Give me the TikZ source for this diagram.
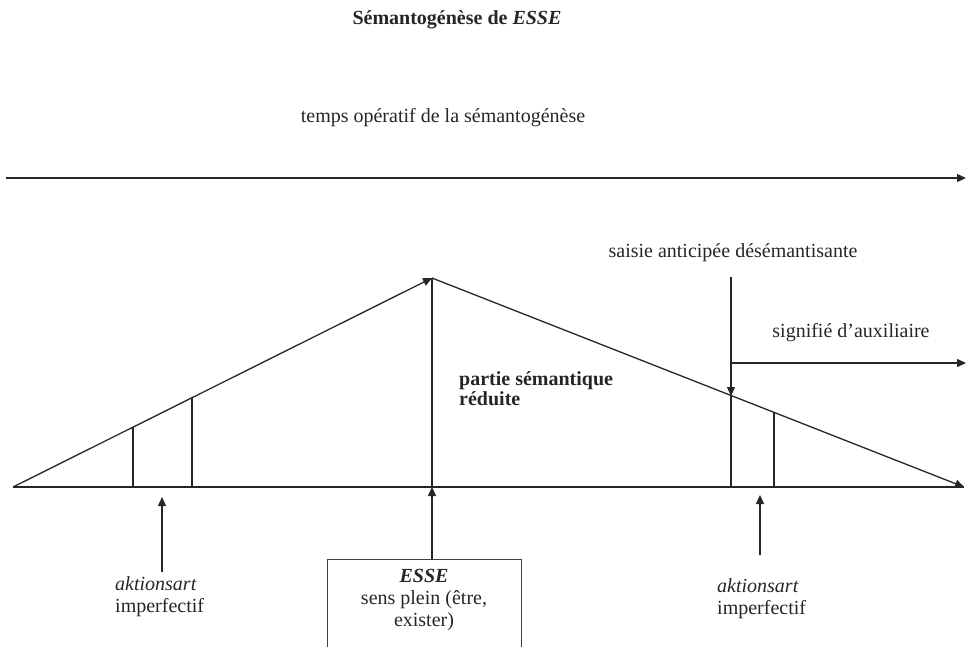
\documentclass[tikz,border=0pt]{standalone}
\usepackage{fontspec}
\setmainfont{Liberation Serif}
\usetikzlibrary{arrows.meta}
\begin{document}
\begin{tikzpicture}[x=1pt,y=-1pt,
  ln/.style={line width=1.3pt,draw=black!85},
  arr/.style={ln,-{Triangle[length=9pt,width=8pt]}},
  txt/.style={font=\fontsize{20}{22}\selectfont,inner sep=0pt,text=black!85}]
\useasboundingbox (0,0) rectangle (966,646);
\clip (0,0) rectangle (966,646);
% named points
\coordinate (T0) at (6,178);
\coordinate (T1) at (966,178);
\coordinate (L) at (13,487);
\coordinate (A) at (432,278);
\coordinate (R) at (964,487);
\coordinate (B) at (432,487);
\coordinate (l1b) at (133,487); \coordinate (l1t) at (133,427);
\coordinate (l2b) at (192,487); \coordinate (l2t) at (192,398);
\coordinate (r1b) at (731,487); \coordinate (r1t) at (731,396);
\coordinate (r2b) at (774,487); \coordinate (r2t) at (774,413);
\coordinate (S0) at (731,277);
\coordinate (H0) at (731,363);
\coordinate (H1) at (966,363);
\coordinate (UL0) at (162,572); \coordinate (UL1) at (162,497);
\coordinate (UR0) at (760,555); \coordinate (UR1) at (760,495);
% texts
\node[txt,font=\fontsize{20}{22}\selectfont\bfseries] (title) at (457,20) {Sémantogénèse de \textit{ESSE}};
\node[txt] (temps) at (443,118) {temps opératif de la sémantogénèse};
\node[txt] (saisie) at (733,253) {saisie anticipée désémantisante};
\node[txt] (signif) at (851,333) {signifié d’auxiliaire};
\node[txt,font=\fontsize{20}{20}\selectfont\bfseries,align=left,anchor=north west] (partie) at (459,371) {partie sémantique\\réduite};
\node[txt,align=left,anchor=north west] (aktL) at (115,576) {\textit{aktionsart}\\imperfectif};
\node[txt,align=left,anchor=north west] (aktR) at (717,578) {\textit{aktionsart}\\imperfectif};
\node[line width=1pt,draw=black!75,minimum width=194pt,minimum height=160pt,anchor=north west,inner sep=0pt] (box) at (327,559) {};
\node[txt,align=center,anchor=north] (esse) at (424,569) {\textbf{\textit{ESSE}}\\sens plein (être,\\exister)};
% lines
\draw[arr] (T0) -- (T1);
\draw[ln] (L) -- (R);
\draw[arr] (L) -- (A);
\draw[arr] (A) -- (R);
\draw[ln] (B) -- (A);
\draw[arr] (box.north -| B) -- (B);
\draw[ln] (l1b) -- (l1t);
\draw[ln] (l2b) -- (l2t);
\draw[ln] (r1b) -- (r1t);
\draw[ln] (r2b) -- (r2t);
\draw[arr] (S0) -- (r1t);
\draw[arr] (H0) -- (H1);
\draw[arr] (UL0) -- (UL1);
\draw[arr] (UR0) -- (UR1);
\end{tikzpicture}
\end{document}
